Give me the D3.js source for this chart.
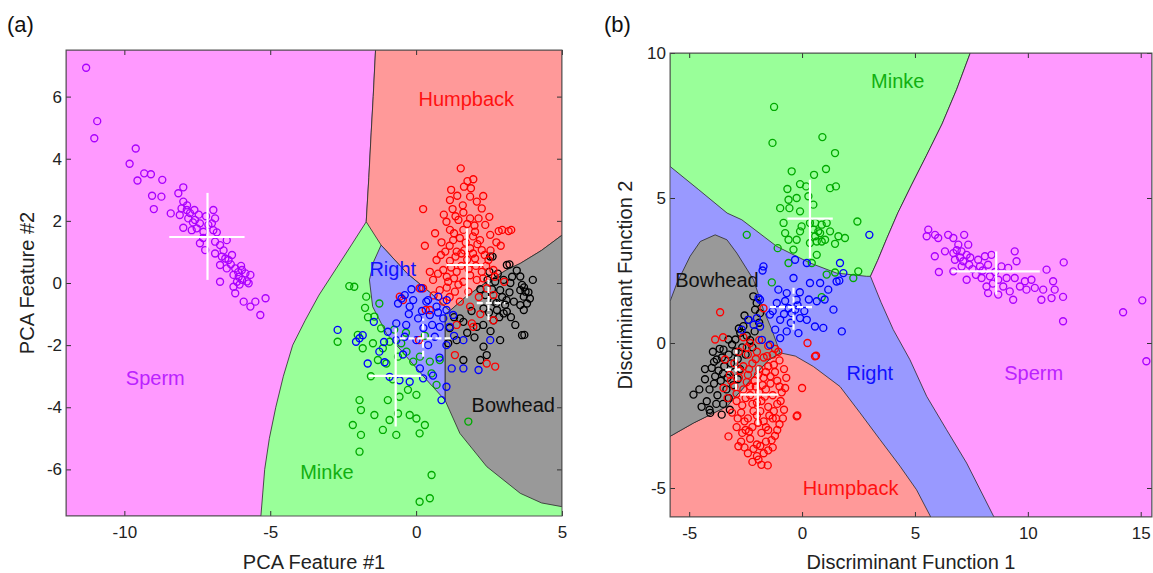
<!DOCTYPE html>
<html><head><meta charset="utf-8">
<script src="https://cdn.jsdelivr.net/npm/d3@7"></script>
<style>body{margin:0;background:#fff} text{font-family:"Liberation Sans",Arial,Helvetica,sans-serif}</style>
</head><body><svg id="c" width="1153" height="573"></svg>
<script>
// ---------------- Panel (a) data : PCA features ----------------
const ticksAx = [-10, -5, 0, 5];
const ticksAy = [-6, -4, -2, 0, 2, 4, 6];
const domainAx = [-12, 5];
const domainAy = [-7.5, 7.5];

const regionSpermA = [[-12,7.5],[-1.39,7.5],[-1.47,6.0],[-1.54,4.83],[-1.62,3.4],[-1.71,1.97],[-2.2,1.25],[-2.75,0.45],[-3.33,-0.39],[-3.8,-1.2],[-4.23,-2.0],[-4.55,-3.0],[-4.81,-4.0],[-5.03,-5.0],[-5.19,-6.0],[-5.32,-7.5],[-12,-7.5]];
const regionHumpA = [[-1.39,7.5],[5,7.5],[5,1.54],[4.3,1.05],[3.57,0.63],[3.1,0.42],[2.4,0.02],[1.7,-0.45],[1.15,-0.9],[0.47,-0.3],[-0.3,0.3],[-1.2,1.22],[-1.71,1.97],[-1.62,3.4],[-1.54,4.83],[-1.47,6.0]];
const regionBowA = [[5,1.54],[4.3,1.05],[3.57,0.63],[3.1,0.42],[2.4,0.02],[1.7,-0.45],[1.15,-0.9],[0.99,-1.0],[0.99,-3.77],[1.5,-4.84],[2.42,-5.91],[3.57,-6.77],[4.3,-7.08],[5,-7.2]];
const regionRightA = [[-1.2,1.22],[-0.3,0.3],[0.47,-0.3],[1.15,-0.9],[0.99,-1.0],[0.99,-3.77],[0.36,-3.12],[-0.33,-2.37],[-1.02,-1.62],[-1.49,-0.76],[-1.6,0.1],[-1.45,0.7]];

const spermA = [[-11.31,6.93],[-10.93,5.21],[-11.03,4.66],[-9.61,4.33],[-9.82,3.84],[-9.32,3.53],[-9.09,3.5],[-9.55,3.3],[-8.7,3.32],[-7.98,3.08],[-8.15,2.89],[-9.05,2.81],[-8.73,2.78],[-7.98,2.62],[-8.99,2.38],[-8.41,2.24],[-8.04,2.4],[-7.86,2.35],[-7.6,2.35],[-6.95,2.35],[-8.1,2.19],[-7.81,2.08],[-7.58,2.03],[-7.41,1.92],[-6.89,2.08],[-7.0,1.92],[-7.98,1.78],[-7.69,1.7],[-7.52,1.76],[-7.12,1.87],[-6.95,1.7],[-7.29,1.65],[-6.83,1.63],[-7.41,1.28],[-6.89,1.33],[-6.49,1.38],[-6.72,1.22],[-7.23,1.06],[-6.89,0.95],[-6.66,0.85],[-6.31,0.9],[-6.54,0.79],[-6.43,0.74],[-6.72,0.58],[-6.49,0.47],[-6.2,0.47],[-5.97,0.42],[-6.26,0.26],[-6.08,0.2],[-5.85,0.31],[-5.68,0.26],[-5.97,0.1],[-6.14,0.04],[-5.74,-0.01],[-6.72,0.04],[-6.26,-0.12],[-6.2,-0.33],[-5.91,-0.6],[-5.51,-0.6],[-5.68,-0.76],[-5.16,-0.49],[-5.34,-1.03],[-7.75,2.25],[-7.45,2.2],[-7.65,1.95],[-7.2,2.15],[-6.6,1.05],[-6.35,0.6],[-6.0,0.55],[-5.8,0.05],[-6.05,-0.05],[-7.85,2.5],[-7.3,1.45],[-6.1,0.35]];
const humpA = [[1.53,3.69],[1.76,3.28],[1.96,3.34],[1.64,3.1],[1.88,3.05],[0.24,2.38],[1.16,2.67],[1.41,2.81],[1.85,2.78],[2.08,2.62],[1.25,2.38],[1.62,2.27],[2.25,2.4],[2.51,2.13],[1.04,1.97],[1.45,2.03],[1.85,2.08],[2.14,2.08],[2.37,1.87],[2.83,1.67],[3.17,1.67],[1.16,1.71],[1.62,1.71],[2.02,1.65],[2.54,1.55],[0.87,1.31],[1.27,1.38],[2.19,1.38],[2.75,1.31],[0.3,1.2],[1.0,1.01],[1.39,1.01],[1.85,1.12],[2.25,1.06],[0.7,0.74],[1.16,0.71],[2.02,0.79],[2.48,0.74],[0.47,0.36],[0.93,0.42],[1.39,0.36],[2.25,0.36],[2.65,0.42],[3.02,0.04],[0.58,0.1],[1.1,0.04],[1.62,0.04],[2.08,0.1],[0.24,-0.17],[0.81,-0.23],[1.33,-0.28],[1.79,-0.28],[2.42,-0.17],[2.65,-0.39],[0.93,-0.6],[1.5,-0.6],[1.85,-0.76],[0.33,-0.87],[-0.56,-0.44],[0.12,-0.17],[0.47,-0.87],[-0.45,-0.55],[1.33,-2.32],[1.91,-1.3],[2.42,-2.59],[2.71,-2.69],[0.1,-1.84],[1.39,-1.35],[1.96,-1.41],[1.3,1.6],[1.5,1.45],[1.7,1.3],[1.95,1.5],[2.1,1.25],[1.35,0.85],[1.55,0.95],[1.75,0.75],[1.95,0.95],[2.35,0.9],[0.85,0.9],[1.2,0.5],[1.55,0.55],[1.8,0.45],[2.05,0.55],[2.4,0.55],[0.75,0.3],[1.05,0.2],[1.3,0.15],[1.85,0.25],[2.3,0.15],[1.6,2.5],[1.35,2.15],[1.75,1.9],[2.0,1.85],[1.15,1.2],[1.65,1.05],[2.55,1.05],[0.6,-0.4],[1.15,-0.45],[2.15,-0.45],[1.05,-0.15],[1.45,-0.05],[2.7,0.2],[2.9,1.2],[3.26,1.71],[2.95,1.71],[1.2,3.0],[2.3,2.8],[0.65,1.6],[0.95,2.2],[2.65,-1.2],[2.2,-1.0]];
const bowA = [[2.54,0.85],[3.11,0.58],[2.51,0.36],[3.29,0.2],[3.63,-0.06],[3.75,-0.28],[2.71,0.04],[2.88,-0.23],[2.37,-0.39],[2.65,-0.6],[3.57,-0.71],[3.69,-0.87],[3.11,-0.92],[2.31,-0.82],[1.5,-1.14],[1.62,-1.25],[2.08,-1.41],[2.3,-1.35],[2.77,-0.87],[3.0,-0.98],[3.57,-0.23],[3.69,-0.44],[3.8,-0.66],[3.63,-1.68],[2.88,-1.84],[2.31,-2.05],[2.42,-2.32],[2.2,-2.48],[1.62,-2.48],[1.1,-1.94],[1.39,-1.84],[2.65,-1.2],[3.1,-0.55],[3.23,0.0],[3.57,0.21],[2.62,0.85],[3.2,0.6],[3.7,-0.14],[3.85,-0.3],[3.71,-1.67],[2.6,-0.2],[2.8,0.3],[3.0,0.1],[2.95,-0.45],[3.2,-0.3],[3.35,-0.6],[2.75,-0.65],[2.5,-0.95],[2.85,-1.1],[3.25,-1.1],[3.45,0.4],[2.45,0.1],[3.05,-0.7],[2.2,-0.2],[1.9,-0.9],[1.75,-1.6],[2.0,-1.75],[2.55,-1.55],[3.4,-1.35],[1.3,-1.1],[1.15,-1.45],[3.9,-0.5],[4.0,0.1]];
const rightA = [[-0.16,-0.2],[0.18,-0.17],[-0.39,-0.39],[-0.62,-0.66],[-0.22,-0.76],[-0.5,-0.5],[0.41,-0.55],[0.76,-0.44],[0.7,-0.76],[1.04,-0.87],[1.27,-1.03],[0.47,-1.03],[0.93,-1.14],[0.81,-1.41],[1.15,-1.41],[0.07,-1.14],[-0.34,-1.35],[-0.68,-1.3],[-0.97,-1.57],[-0.68,-1.84],[-0.39,-1.73],[0.01,-1.84],[0.41,-2.0],[0.64,-1.73],[1.04,-2.0],[1.22,-2.75],[1.62,-2.75],[2.14,-2.8],[2.54,-1.84],[1.62,-1.84],[-1.26,-2.21],[-1.66,-2.59],[-2.06,-1.89],[-1.94,-1.78],[-2.69,-1.51],[-1.83,-1.68],[-1.08,-2.55],[-0.91,-3.02],[-0.57,-3.13],[-0.22,-3.18],[0.58,-2.98],[1.04,-3.34],[0.87,-3.77],[0.13,-2.75],[0.24,-3.07],[0.35,-0.6],[0.75,-0.95],[1.05,-0.55],[-0.1,-0.55],[0.2,-0.9],[0.55,-1.35],[-0.25,-1.0],[0.25,-1.45],[1.3,-1.7],[-1.45,-1.25],[-1.1,-1.9],[0.8,-2.4],[-0.45,-2.3]];
const minkeA = [[-2.29,-0.1],[-2.12,-0.12],[-1.71,-0.44],[-1.26,-0.66],[-1.43,-1.08],[-1.2,-1.46],[-2.0,-1.67],[-2.69,-1.89],[-1.83,-2.1],[-1.48,-1.94],[-1.14,-2.1],[-0.91,-1.89],[-0.51,-1.94],[-1.31,-2.48],[-1.02,-2.59],[-0.62,-2.37],[-0.33,-2.21],[-0.1,-2.53],[0.13,-2.37],[0.47,-2.53],[0.81,-2.48],[0.53,-2.91],[0.7,-3.28],[-0.28,-3.44],[0.01,-3.6],[-0.57,-3.66],[-0.97,-3.77],[-1.94,-3.77],[-1.89,-4.09],[-1.43,-4.25],[-0.62,-4.2],[-0.22,-4.25],[0.01,-4.36],[-0.91,-4.41],[-2.17,-4.57],[-1.14,-4.73],[-0.68,-4.89],[0.12,-4.84],[0.3,-4.57],[-1.89,-4.89],[-1.94,-5.43],[1.79,-4.46],[0.53,-6.18],[0.12,-7.04],[0.47,-6.93],[-1.65,-1.1],[-0.75,-1.5],[-1.55,-3.0],[-0.8,-3.1],[0.3,-1.7],[-0.35,-1.6],[-1.75,-0.8]];

// class: [meanX, meanY, xLow, xHigh, yLow, yHigh]
const crossA = {
  sperm: [-7.15, 1.48, -8.46, -5.88, 0.1, 2.9],
  hump:  [1.74, 0.58, 1.04, 2.31, -0.49, 1.76],
  bow:   [2.48, -0.65, 2.08, 3.06, -1.19, 0.1],
  right: [0.24, -1.78, -0.57, 1.22, -2.37, -1.14],
  minke: [-0.7, -2.99, -1.62, 0.18, -4.62, -1.46]
};
const labelsA = [["hump","Humpback",1.72,5.92],["right","Right",-0.8,0.47],["sperm","Sperm",-8.94,-3.05],["bow","Bowhead",3.33,-3.93],["minke","Minke",-3.06,-6.07]];

// ---------------- Panel (b) data : discriminant functions ----------------
const ticksBx = [-5, 0, 5, 10, 15];
const ticksBy = [-5, 0, 5, 10];
const domainBx = [-5.85, 15.5];
const domainBy = [-6, 10];

const regionMinkeB = [[-5.85,10],[7.45,10],[6.85,8.75],[6.2,7.55],[5.5,6.45],[4.85,5.45],[4.25,4.5],[3.75,3.6],[3.35,2.85],[3.03,2.3],[2.86,2.3],[1.53,2.41],[0.35,2.76],[-1.12,3.33],[-2.67,4.25],[-3.32,4.48],[-4.6,5.3],[-5.85,6.09]];
const regionSpermB = [[7.45,10],[15.5,10],[15.5,-6],[8.5,-6],[7.29,-4.14],[6.4,-2.99],[5.52,-1.84],[4.78,-0.58],[4.04,0.46],[3.5,1.4],[3.03,2.3],[3.35,2.85],[3.75,3.6],[4.25,4.5],[4.85,5.45],[5.5,6.45],[6.2,7.55],[6.85,8.75]];
const regionHumpB = [[-5.85,-6],[5.7,-6],[5.07,-5.06],[4.34,-4.25],[3.45,-3.33],[2.57,-2.41],[1.68,-1.5],[0.5,-0.81],[-0.3,-0.45],[-0.97,-0.34],[-1.5,-0.6],[-2.2,-1.2],[-3.33,-2.19],[-4.81,-2.76],[-5.85,-3.22]];
const regionBowB = [[-5.85,-3.22],[-4.81,-2.76],[-3.33,-2.19],[-2.2,-1.2],[-1.5,-0.6],[-0.97,-0.34],[-1.34,0.46],[-1.71,1.15],[-2.15,2.18],[-2.89,3.1],[-3.33,3.56],[-3.85,3.73],[-4.51,3.5],[-4.96,2.99],[-5.54,2.07],[-5.85,1.43]];

const spermB = [[5.59,3.91],[5.52,3.68],[5.89,3.73],[6.03,3.62],[6.47,3.73],[6.7,3.62],[7.18,3.73],[6.92,3.39],[7.36,3.39],[5.88,2.99],[6.33,3.16],[6.7,3.1],[7.06,3.16],[7.29,3.04],[6.77,2.87],[7.14,2.82],[7.45,2.95],[6.06,2.45],[6.7,2.47],[7.07,2.64],[7.29,2.18],[7.8,2.87],[8.1,2.99],[8.39,3.04],[7.88,2.64],[8.24,2.7],[7.95,2.24],[8.32,2.3],[8.17,1.95],[8.24,1.72],[8.69,1.67],[8.83,2.64],[9.13,2.59],[9.42,3.16],[9.5,2.82],[9.06,2.24],[9.42,2.24],[8.91,1.95],[9.2,1.78],[9.35,1.49],[9.87,2.13],[10.16,2.18],[9.94,1.84],[10.31,1.9],[10.68,1.84],[10.6,1.49],[10.83,2.53],[11.12,2.13],[11.19,1.84],[11.05,1.55],[11.56,1.59],[11.59,2.78],[11.56,0.75],[14.22,1.06],[15.07,1.47],[15.25,-0.63],[8.69,2.18],[8.55,2.45],[7.55,2.55],[7.7,2.35],[7.4,2.7],[7.0,2.95],[6.85,3.2],[8.0,2.5],[8.45,2.05],[9.65,1.95]];
const humpB = [[-3.63,1.06],[-3.85,0.12],[-3.41,-0.57],[-3.48,-1.55],[0.0,-1.55],[-0.21,-2.5],[0.62,-0.44],[0.24,0.0],[-1.71,1.2],[0.57,-0.46],[-0.24,-2.53],[-1.52,-4.22],[-1.93,-4.02],[-2.82,-3.56],[-3.26,-3.22],[-3.5,0.2],[-2.6,0.2],[-2.3,0.0],[-1.9,0.1],[-1.5,-0.1],[-1.2,-0.2],[-2.8,-0.3],[-2.4,-0.4],[-2.0,-0.3],[-1.7,-0.5],[-1.3,-0.4],[-1.0,-0.6],[-3.0,-0.7],[-2.6,-0.8],[-2.2,-0.7],[-1.9,-0.9],[-1.5,-0.8],[-1.2,-1.0],[-0.8,-0.9],[-3.2,-1.1],[-2.8,-1.2],[-2.4,-1.1],[-2.1,-1.3],[-1.7,-1.2],[-1.4,-1.4],[-1.1,-1.3],[-0.7,-1.2],[-3.0,-1.5],[-2.6,-1.6],[-2.3,-1.5],[-1.9,-1.7],[-1.6,-1.6],[-1.3,-1.8],[-0.9,-1.7],[-3.3,-1.9],[-2.9,-2.0],[-2.5,-1.9],[-2.2,-2.1],[-1.8,-2.0],[-1.5,-2.2],[-1.1,-2.1],[-0.8,-2.3],[-3.1,-2.4],[-2.7,-2.4],[-2.4,-2.6],[-2.0,-2.5],[-1.7,-2.7],[-1.3,-2.6],[-1.0,-2.8],[-2.9,-2.9],[-2.5,-3.0],[-2.2,-2.9],[-1.8,-3.1],[-1.5,-3.0],[-1.2,-3.2],[-2.7,-3.4],[-2.3,-3.3],[-2.0,-3.5],[-1.6,-3.4],[-1.3,-3.6],[-2.4,-3.8],[-2.0,-3.9],[-1.7,-3.8],[-2.2,-4.1],[-1.8,-4.2],[-2.45,-0.15],[-2.05,-0.55],[-1.55,-0.45],[-2.75,-0.95],[-2.35,-0.9],[-1.95,-1.1],[-1.6,-1.0],[-1.25,-0.75],[-2.9,-1.75],[-2.45,-1.35],[-2.05,-1.5],[-1.75,-1.45],[-1.4,-1.15],[-1.0,-1.5],[-2.65,-2.15],[-2.3,-1.8],[-2.0,-2.05],[-1.65,-1.85],[-1.25,-2.35],[-0.95,-2.0],[-2.85,-2.6],[-2.55,-2.7],[-2.15,-2.35],[-1.85,-2.35],[-1.45,-2.5],[-1.15,-2.6],[-2.65,-3.1],[-2.35,-3.05],[-1.95,-2.75],[-1.6,-2.9],[-1.35,-3.35],[-2.15,-3.65],[-1.85,-3.55],[-1.5,-3.7],[-2.55,-3.6],[-1.1,-3.0],[-0.85,-2.6],[-0.75,-1.55],[-3.15,-1.3],[-1.05,-0.3]];
const bowB = [[-4.81,-1.78],[-4.55,-1.6],[-4.22,-2.01],[-4.07,-2.41],[-3.56,-2.47],[-3.5,-2.1],[-3.85,-1.15],[-4.0,-0.86],[-3.78,-0.57],[-3.48,-0.23],[-3.26,0.12],[-2.95,0.12],[-2.74,0.35],[-2.6,0.58],[-2.38,0.8],[-2.08,1.15],[-2.01,1.38],[-2.16,1.61],[-1.86,1.03],[-2.55,0.95],[-3.9,-1.4],[-3.6,-1.3],[-3.3,-1.2],[-3.0,-1.0],[-3.7,-0.95],[-3.45,-0.8],[-3.15,-0.7],[-2.85,-0.55],[-3.55,-0.5],[-3.25,-0.4],[-2.95,-0.3],[-2.65,-0.15],[-3.35,-1.6],[-3.05,-1.45],[-3.75,-1.8],[-4.1,-1.6],[-3.25,-1.9],[-2.75,-0.9],[-2.5,-0.4],[-2.3,0.1],[-2.1,0.4],[-2.45,0.25],[-3.1,-0.05],[-3.65,-0.2],[-3.95,-0.3],[-4.3,-1.25],[-4.45,-2.2],[-4.1,-2.3],[-3.8,-2.1],[-2.85,-1.25],[-3.5,-1.05],[-3.9,-0.65],[-2.8,0.5],[-1.9,0.7],[-2.2,-0.15],[-4.3,-0.9],[-3.2,-2.3]];
const rightB = [[2.98,3.73],[-1.71,2.64],[-1.75,2.5],[-0.31,2.87],[0.21,2.76],[1.68,2.76],[-0.38,2.24],[0.35,2.07],[0.8,2.07],[1.16,1.84],[1.65,2.15],[-1.05,1.84],[-0.68,1.72],[-0.24,1.49],[0.65,1.44],[1.0,1.5],[1.39,1.15],[1.76,0.4],[-1.86,1.49],[-1.12,1.38],[-1.42,0.98],[-0.97,0.8],[-0.46,1.03],[-0.09,0.86],[0.21,0.8],[0.57,0.57],[0.94,0.52],[-2.37,0.8],[-2.0,0.86],[-1.86,0.57],[-1.19,0.46],[-0.68,0.4],[-0.16,0.34],[-2.67,0.46],[-1.42,-0.06],[-0.97,0.17],[-1.78,0.11],[-2.15,0.63],[1.83,2.41],[1.53,2.12],[-1.93,1.55],[-0.6,1.2],[-0.3,1.15],[-0.8,1.0],[-0.2,1.3],[0.1,1.1],[-0.5,0.7],[-1.3,1.1],[0.3,1.5],[-0.1,1.75],[-0.75,1.45]];
const minkeB = [[-1.24,8.14],[-1.31,6.9],[0.9,7.1],[1.46,6.55],[1.06,6.0],[-0.46,5.92],[0.53,5.8],[-0.09,5.48],[0.18,5.4],[1.24,5.34],[1.5,5.4],[-0.65,5.31],[-0.24,5.0],[-0.6,4.94],[-0.97,4.65],[-0.56,4.65],[0.5,4.77],[0.28,5.06],[-0.09,4.54],[-0.82,4.14],[0.58,4.14],[0.87,4.08],[1.09,4.14],[2.45,4.19],[-0.75,3.79],[-0.09,3.85],[0.5,3.91],[0.8,3.79],[1.24,3.85],[1.61,3.68],[1.9,3.62],[-0.6,3.56],[-0.24,3.56],[0.65,3.5],[1.02,3.56],[1.46,3.42],[-1.08,3.27],[-0.38,3.22],[0.65,3.04],[-2.45,3.73],[-0.6,2.76],[0.43,2.76],[1.09,2.36],[1.46,2.43],[2.49,2.47],[2.27,2.24],[-1.34,2.09],[0.87,1.58],[0.35,4.14],[0.72,3.85],[0.58,3.68],[0.87,3.5],[0.35,3.45],[-0.02,4.02]];

const crossB = {
  minke: [0.35, 4.29, -0.65, 1.36, 2.93, 5.63],
  sperm: [8.6, 2.47, 6.62, 10.53, 1.67, 3.16],
  right: [-0.38, 1.24, -1.42, 0.5, 0.46, 2.01],
  bow:   [-2.92, -0.92, -3.4, -2.6, -1.61, -0.23],
  hump:  [-1.96, -1.78, -2.74, -1.05, -2.82, -0.81]
};
const labelsB = [["minke","Minke",4.24,9.03],["bow","Bowhead",-3.77,2.17],["right","Right",3.0,-1.02],["sperm","Sperm",10.26,-1.04],["hump","Humpback",2.15,-5.01]];

// ---------------- styles ----------------
const regionFill = {sperm:"#ff99ff", hump:"#ff9999", bow:"#999999", right:"#9999ff", minke:"#99ff99"};
const markColor  = {sperm:"#aa00ff", hump:"#ff0000", bow:"#000000", right:"#0000ff", minke:"#00aa00"};
const textColor  = {sperm:"#bb22ff", hump:"#ff1111", bow:"#111111", right:"#1111ff", minke:"#11b011"};

const svg = d3.select("#c");

function drawPanel(id, cfg) {
  const x = d3.scaleLinear().domain(cfg.dx).range(cfg.rx);
  const y = d3.scaleLinear().domain(cfg.dy).range(cfg.ry);
  const g = svg.append("g");
  const clipId = "clip" + id;
  g.append("clipPath").attr("id", clipId).append("rect")
    .attr("x", cfg.rx[0]).attr("y", cfg.ry[1])
    .attr("width", cfg.rx[1]-cfg.rx[0]).attr("height", cfg.ry[0]-cfg.ry[1]);
  const plot = g.append("g").attr("clip-path", `url(#${clipId})`);
  plot.append("rect").attr("x", x(cfg.dx[0])).attr("y", y(cfg.dy[1]))
    .attr("width", x(cfg.dx[1]) - x(cfg.dx[0])).attr("height", y(cfg.dy[0]) - y(cfg.dy[1]))
    .attr("fill", regionFill[cfg.bg]);
  const line = d3.line().x(d => x(d[0])).y(d => y(d[1]));
  cfg.regions.forEach(([cls, poly]) => {
    plot.append("path").attr("d", line(poly) + "Z")
      .attr("fill", regionFill[cls]).attr("stroke", "#2a2a2a").attr("stroke-width", 0.8)
      .attr("stroke-linejoin", "round");
  });
  cfg.points.forEach(([cls, pts]) => {
    plot.append("g").selectAll("circle").data(pts).join("circle")
      .attr("cx", d => x(d[0])).attr("cy", d => y(d[1])).attr("r", 3.5)
      .attr("fill", "none").attr("stroke", markColor[cls]).attr("stroke-width", 1.35);
  });
  Object.entries(cfg.cross).forEach(([cls, c]) => {
    const dashed = (cls === "right" || cls === "bow");
    const cg = plot.append("g").attr("stroke", "#fff").attr("stroke-width", 2.2)
      .attr("stroke-dasharray", dashed ? "6,3" : null);
    cg.append("line").attr("x1", x(c[2])).attr("x2", x(c[3])).attr("y1", y(c[1])).attr("y2", y(c[1]));
    cg.append("line").attr("x1", x(c[0])).attr("x2", x(c[0])).attr("y1", y(c[4])).attr("y2", y(c[5]));
  });
  cfg.labels.forEach(([cls, t, lx, ly]) => {
    plot.append("text").attr("x", x(lx)).attr("y", y(ly)).attr("dy", "0.36em")
      .attr("text-anchor", "middle").attr("font-size", 20).attr("fill", textColor[cls]).text(t);
  });
  const fmt = d => String(d);
  const ax = [
    d3.axisBottom(x).tickValues(cfg.tx).tickSize(-5).tickPadding(10).tickFormat(fmt),
    d3.axisTop(x).tickValues(cfg.tx).tickSize(-5).tickFormat(""),
    d3.axisLeft(y).tickValues(cfg.ty).tickSize(-5).tickPadding(4).tickFormat(fmt),
    d3.axisRight(y).tickValues(cfg.ty).tickSize(-5).tickFormat("")
  ];
  const tr = [`translate(0,${cfg.ry[0]})`, `translate(0,${cfg.ry[1]})`, `translate(${cfg.rx[0]},0)`, `translate(${cfg.rx[1]},0)`];
  ax.forEach((a, i) => {
    const ag = g.append("g").attr("transform", tr[i]).call(a);
    ag.select(".domain").remove();
    ag.selectAll(".tick line").attr("stroke", "#333");
    ag.selectAll("text").attr("font-size", 17).attr("fill", "#222")
      .style("font-family", '"Liberation Sans",Arial,sans-serif');
  });
  g.append("rect").attr("x", cfg.rx[0]).attr("y", cfg.ry[1])
    .attr("width", cfg.rx[1]-cfg.rx[0]).attr("height", cfg.ry[0]-cfg.ry[1])
    .attr("fill", "none").attr("stroke", "#555").attr("stroke-width", 1);
  g.append("text").attr("x", cfg.xt[0]).attr("y", cfg.xt[1]).attr("text-anchor", "middle")
    .attr("font-size", 20).attr("fill", "#222").text(cfg.xlabel);
  g.append("text").attr("transform", `translate(${cfg.yt[0]},${cfg.yt[1]}) rotate(-90)`)
    .attr("text-anchor", "middle").attr("font-size", 20).attr("fill", "#222").text(cfg.ylabel);
  g.append("text").attr("x", cfg.pl[0]).attr("y", cfg.pl[1]).attr("font-size", 22)
    .attr("fill", "#111").text(cfg.panel);
}

drawPanel("A", {
  dx: domainAx, dy: domainAy, rx: [66, 562], ry: [516, 50], tx: ticksAx, ty: ticksAy,
  bg: "minke",
  regions: [["sperm", regionSpermA], ["hump", regionHumpA], ["bow", regionBowA], ["right", regionRightA]],
  points: [["bow", bowA], ["hump", humpA], ["minke", minkeA], ["right", rightA], ["sperm", spermA]],
  cross: crossA, labels: labelsA,
  xlabel: "PCA Feature #1", ylabel: "PCA Feature #2",
  xt: [314, 569], yt: [34, 283], pl: [7, 32], panel: "(a)"
});
drawPanel("B", {
  dx: domainBx, dy: domainBy, rx: [670, 1152], ry: [517, 53], tx: ticksBx, ty: ticksBy,
  bg: "right",
  regions: [["minke", regionMinkeB], ["sperm", regionSpermB], ["hump", regionHumpB], ["bow", regionBowB]],
  points: [["bow", bowB], ["hump", humpB], ["minke", minkeB], ["right", rightB], ["sperm", spermB]],
  cross: crossB, labels: labelsB,
  xlabel: "Discriminant Function 1", ylabel: "Discriminant Function 2",
  xt: [911, 569], yt: [632, 285], pl: [604, 32], panel: "(b)"
});
</script>
</body></html>
